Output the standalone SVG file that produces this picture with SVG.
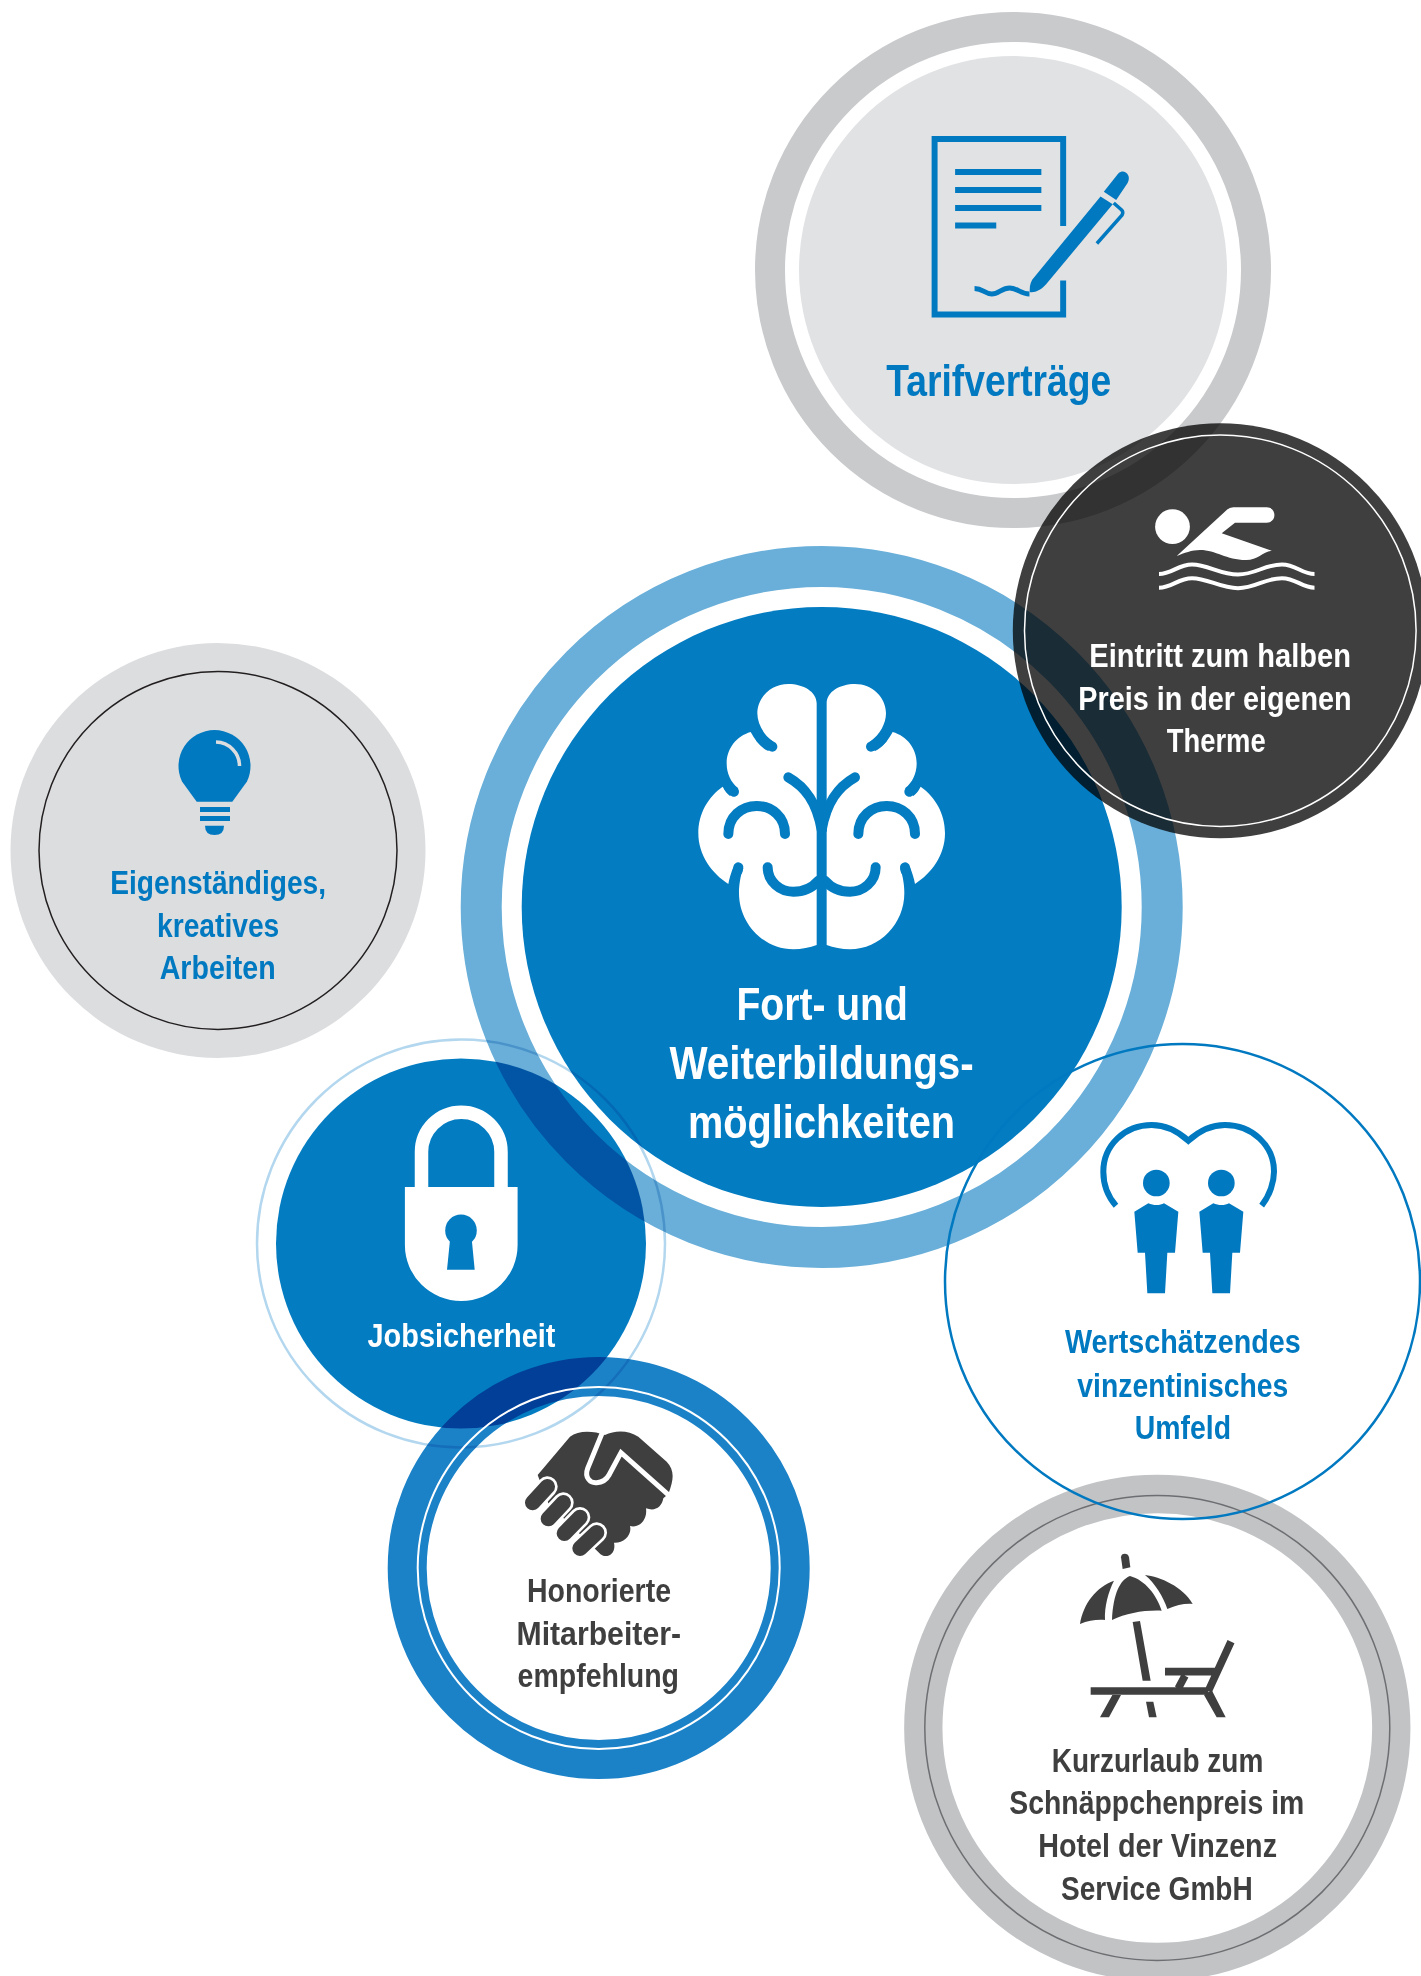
<svg xmlns="http://www.w3.org/2000/svg" xmlns:xlink="http://www.w3.org/1999/xlink" width="1421" height="1976" viewBox="0 0 1421 1976">
<style>
text{font-family:"Liberation Sans Narrow","Liberation Sans",Arial,sans-serif;font-weight:700}
.s33{font-size:33px}.s46{font-size:46px}.s44{font-size:44px}
.w{fill:#fff}.b{fill:#0079c1}.d{fill:#3f3f3f}
.mul{mix-blend-mode:multiply}
.ico{fill:#0079c1}
.dk{fill:#3f3f3f}
.gr{fill:none;stroke:#037cc2;stroke-width:30;stroke-linecap:round}
</style>
<defs>
<g id="brain-half">
<path fill="#fff" d="M470 855V130C470 95 510 72 555 72C607 72 648 112 648 160C648 190 630 225 600 245L615 273C635 265 655 240 668 216C710 228 740 265 740 310C740 340 728 368 705 385L730 408C738 402 746 392 752 380C795 410 825 460 825 520C825 585 785 640 735 672C732 655 727 640 720 622L690 625C700 650 703 680 703 700C703 790 630 868 540 868C515 868 490 862 470 855Z"/>
<path class="gr" d="M603 260C615 255 628 246 638 235"/>
<path class="gr" d="M718 395C722 393 728 388 733 382"/>
<path class="gr" d="M705 622L707 632"/>
<path class="gr" d="M555 352C505 380 470 425 455 510"/>
<path class="gr" d="M617 622C617 665 580 695 540 695C510 695 485 685 465 662"/>
<path class="gr" d="M565 522C565 470 605 438 650 438C695 438 735 470 735 522"/>
</g>
<g id="person">
<circle cx="199" cy="219" r="40"/>
<path d="M133 305L175 280C190 287 210 287 222 280L265 305L255 428H232L225 550H172L165 428H143Z"/>
</g>
</defs>
<rect width="1421" height="1976" fill="#fff"/>

<g id="node-tarifvertraege">
<circle cx="1013" cy="270" r="243" fill="none" stroke="#c9cacc" stroke-width="30"/>
<circle cx="1013" cy="270" r="214" fill="#e1e2e4"/>
<g transform="translate(740 0) scale(.9913 1) translate(-740 0)">
<path d="M1066 226V139H936.300V314.500H1066V280.400" fill="none" stroke="#0079c1" stroke-width="6"/>
<path class="ico" d="M957 169h87v6h-87zM957 187h87v6h-87zM957 205h87v6h-87zM957 222.500h41.500v6h-41.500z"/>
<path class="ico" d="M1103.700 196.400L1116 204.300L1049 284C1044 290 1037 293 1032.300 292C1032 286 1033 281 1037 277Z"/>
<path class="ico" d="M1107 191.800L1119.500 200L1131 183C1135 176 1129 170 1124 172C1122 172.500 1121 174 1120 175.500Z"/>
<path d="M1117 203L1125 210Q1127 212 1125.500 215L1100 243.500" fill="none" stroke="#0079c1" stroke-width="3.500"/>
<path d="M976.600 288.500C985 288.500 987 294 994 294C1001 294 1004 288 1012 288C1020 288 1023 294 1032 294" fill="none" stroke="#0079c1" stroke-width="5"/>
</g>
<text class="s44 b" x="886.300" y="395.700" textLength="225" lengthAdjust="spacingAndGlyphs">Tarifverträge</text>
</g>

<g id="node-fortbildung">
<circle cx="821.700" cy="907" r="340.500" fill="none" stroke="#69afd9" stroke-width="41"/>
<circle cx="821.700" cy="907" r="300" fill="#037cc2"/>
<g transform="translate(670 660) scale(.33333)">
<use xlink:href="#brain-half" href="#brain-half"/>
<use xlink:href="#brain-half" href="#brain-half" transform="translate(910 0) scale(-1 1)"/>
</g>
<text class="s46 w" x="736.500" y="1019.500" textLength="171.300" lengthAdjust="spacingAndGlyphs">Fort- und</text>
<text class="s46 w" x="669.400" y="1078.500" textLength="304.400" lengthAdjust="spacingAndGlyphs">Weiterbildungs-</text>
<text class="s46 w" x="688" y="1137.500" textLength="267" lengthAdjust="spacingAndGlyphs">möglichkeiten</text>
</g>

<g id="node-eigenstaendig">
<circle cx="218" cy="850.400" r="207.500" fill="#dcdddf"/>
<circle cx="218" cy="850.400" r="179" fill="none" stroke="#231f20" stroke-width="1.500"/>
<path class="ico" d="M196.700 801.700L182 781.500A36 36 0 1 1 247 781.500L232.300 801.700Z"/>
<path d="M216 742A24 24 0 0 1 239.500 766" fill="none" stroke="#dcdddf" stroke-width="3.500"/>
<path class="ico" d="M200 807h30v5h-30zM200 816h30v5h-30zM205 825.700H224Q224 835 214.500 835Q205 835 205 825.700Z"/>
<text class="s33 b" x="110.300" y="894.300" textLength="215.700" lengthAdjust="spacingAndGlyphs">Eigenständiges,</text>
<text class="s33 b" x="157" y="937.300" textLength="122.300" lengthAdjust="spacingAndGlyphs">kreatives</text>
<text class="s33 b" x="159.700" y="979.300" textLength="116" lengthAdjust="spacingAndGlyphs">Arbeiten</text>
</g>

<g id="node-kurzurlaub">
<circle cx="1157.300" cy="1728" r="234" fill="none" stroke="#c1c3c5" stroke-width="38.300"/>
<circle cx="1157.300" cy="1728" r="232.500" fill="none" stroke="#6d6e71" stroke-width="1.500"/>
<g transform="translate(900 1470) scale(.33333)">
<path class="dk" d="M663 262C663 248 685 248 687 262L691 292L668 297Z"/>
<path class="dk" d="M642 332C590 350 550 400 540 462C565 452 590 448 615 450C613 410 625 365 642 332Z"/>
<path class="dk" d="M690 318C660 330 640 370 636 450C680 430 730 420 785 422C770 375 735 330 690 318Z"/>
<path class="dk" d="M735 315C780 320 850 350 878 402C855 400 830 405 802 417C790 380 765 340 735 315Z"/>
<path class="dk" d="M698 456L720 453L752 632H728ZM738 695H760L770 742H747Z"/>
<path class="dk" d="M637 675H663L627 742H600ZM912 675L935 660L977 742H950Z"/>
<path d="M572 663H925M993 515L925 663M795 605H950M855 617L835 655" fill="none" stroke="#3f3f3f" stroke-width="23"/>
</g>
<text class="s33 d" x="1051.700" y="1771.700" textLength="211.600" lengthAdjust="spacingAndGlyphs">Kurzurlaub zum</text>
<text class="s33 d" x="1009.300" y="1814.300" textLength="295" lengthAdjust="spacingAndGlyphs">Schnäppchenpreis im</text>
<text class="s33 d" x="1038.300" y="1857.300" textLength="238.700" lengthAdjust="spacingAndGlyphs">Hotel der Vinzenz</text>
<text class="s33 d" x="1061" y="1900" textLength="191.700" lengthAdjust="spacingAndGlyphs">Service GmbH</text>
</g>

<g id="node-umfeld">
<circle cx="1182.500" cy="1281.500" r="237.500" fill="none" stroke="#0079c1" stroke-width="2.500"/>
<g transform="translate(1090 1110) scale(.33333)" fill="#0079c1">
<path d="M78 287C50 255 40 215 40 185C40 105 105 45 185 45C225 45 265 65 295 92C325 65 365 45 405 45C485 45 552 105 552 185C552 215 540 255 515 287" fill="none" stroke="#0079c1" stroke-width="18"/>
<use xlink:href="#person" href="#person"/>
<use xlink:href="#person" href="#person" transform="translate(195 0)"/>
</g>
<text class="s33 b" x="1065" y="1353.300" textLength="235.700" lengthAdjust="spacingAndGlyphs">Wertschätzendes</text>
<text class="s33 b" x="1077.300" y="1396.700" textLength="211" lengthAdjust="spacingAndGlyphs">vinzentinisches</text>
<text class="s33 b" x="1134.700" y="1438.700" textLength="96.300" lengthAdjust="spacingAndGlyphs">Umfeld</text>
</g>

<g id="node-jobsicherheit">
<circle class="mul" cx="461" cy="1243.500" r="204" fill="none" stroke="#b3d7ee" stroke-width="2.500"/>
<circle class="mul" cx="461" cy="1243.500" r="185" fill="#037cc2"/>
<path class="w" d="M404.900 1187H517.600V1245A56.350 56 0 0 1 404.900 1245Z"/>
<path d="M421.500 1190V1152A39.700 39.700 0 0 1 501 1152V1190" fill="none" stroke="#fff" stroke-width="13.500"/>
<circle cx="461" cy="1230.400" r="15.800" fill="#037cc2"/>
<path d="M450 1240H471.800L474.700 1269.700H447Z" fill="#037cc2"/>
<text class="s33 w" x="367.500" y="1347" textLength="188" lengthAdjust="spacingAndGlyphs">Jobsicherheit</text>
</g>

<g id="node-mitarbeiterempfehlung">
<circle class="mul" cx="598.700" cy="1568" r="191.500" fill="none" stroke="#1c82c8" stroke-width="39"/>
<circle cx="598.700" cy="1568" r="181" fill="none" stroke="#fff" stroke-width="2"/>
<g transform="translate(515 1420) scale(.33333)">
<path class="dk" d="M68 165L165 50C190 30 235 32 270 45C300 30 340 30 370 50L455 125C478 150 478 175 460 222L445 235C440 262 420 275 393 265C398 300 372 325 345 318C352 345 325 370 297 368C305 405 270 420 252 398L100 250Z"/>
<path d="M262 38L218 145C208 172 225 190 245 188C262 187 275 178 282 165L318 98L462 226" fill="none" stroke="#fff" stroke-width="15"/>
<path d="M53 248L97 200M100 296L145 248M148 340L195 292M195 385L245 338" fill="none" stroke="#fff" stroke-width="62" stroke-linecap="round"/>
<path d="M53 248L97 200M100 296L145 248M148 340L195 292M195 385L245 338" fill="none" stroke="#3f3f3f" stroke-width="46" stroke-linecap="round"/>
</g>
<text class="s33 d" x="527" y="1602" textLength="144" lengthAdjust="spacingAndGlyphs">Honorierte</text>
<text class="s33 d" x="516.500" y="1644.500" textLength="164.500" lengthAdjust="spacingAndGlyphs">Mitarbeiter-</text>
<text class="s33 d" x="517.600" y="1687" textLength="161.400" lengthAdjust="spacingAndGlyphs">empfehlung</text>
</g>

<g id="node-therme">
<circle class="mul" cx="1220.300" cy="630.700" r="207.500" fill="#3f3f3f"/>
<circle cx="1220.300" cy="630.700" r="195.800" fill="none" stroke="#fff" stroke-width="1.500"/>
<circle cx="1172.500" cy="526.700" r="17.400" fill="#fff"/>
<path class="w" d="M1226.700 510Q1229.500 507.300 1233.300 507.300H1266.700C1277 507.300 1277 522.700 1266.700 522.700H1235L1221.700 533.300L1271.700 550.700C1262 552 1258 560 1246 560C1226 560 1216 550 1200 550C1192 550 1184 553 1176.700 556Z"/>
<path d="M1159 574C1172 574 1178 564.500 1192 564.500C1208 564.500 1220 574.500 1238 574.500C1256 574.500 1264 564.500 1282 564.500C1296 564.500 1302 574 1314.500 574M1159 587.700C1172 587.700 1178 578.200 1192 578.200C1208 578.200 1220 588.200 1238 588.200C1256 588.200 1264 578.200 1282 578.200C1296 578.200 1302 587.700 1314.500 587.700" fill="none" stroke="#fff" stroke-width="4"/>
<text class="s33 w" x="1089.300" y="667" textLength="261.700" lengthAdjust="spacingAndGlyphs">Eintritt zum halben</text>
<text class="s33 w" x="1078.300" y="710" textLength="273.400" lengthAdjust="spacingAndGlyphs">Preis in der eigenen</text>
<text class="s33 w" x="1166.700" y="752" textLength="99" lengthAdjust="spacingAndGlyphs">Therme</text>
</g>
</svg>
